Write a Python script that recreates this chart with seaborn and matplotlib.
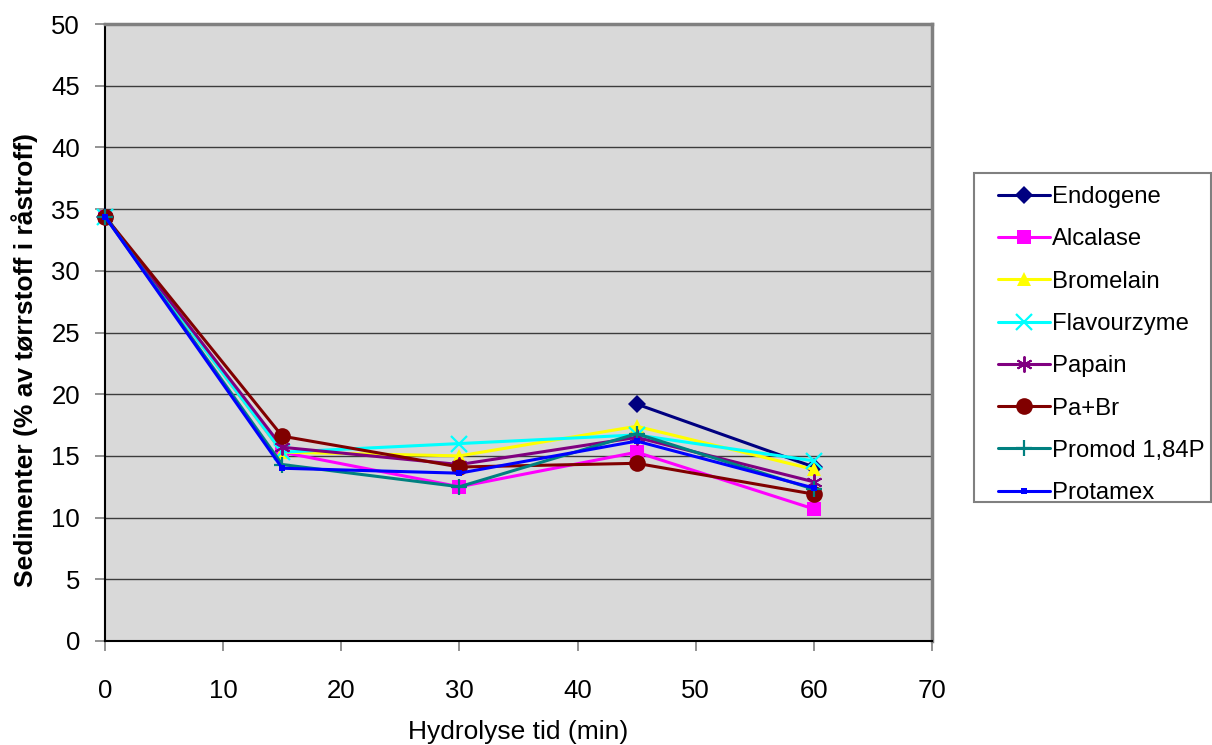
import numpy as np
import pandas as pd
import matplotlib
matplotlib.use("Agg")
import matplotlib.pyplot as plt
from matplotlib.patches import Rectangle
import seaborn as sns

# Hydrolysis time (min)
time_min = [0, 15, 30, 45, 60]

# Sediment, % of dry matter in raw material, per enzyme treatment
endogene = [34.4, np.nan, np.nan, 19.2, 14.1]
alcalase = [34.4, 15.3, 12.5, 15.3, 10.7]
bromelain = [34.4, 15.3, 15.0, 17.4, 13.9]
flavourzyme = [34.4, 15.3, 16.0, 16.7, 14.6]
papain = [34.4, 15.7, 14.3, 16.5, 12.9]
pa_br = [34.4, 16.6, 14.1, 14.4, 11.9]
promod = [34.4, 14.3, 12.5, 16.8, 12.3]
protamex = [34.4, 14.0, 13.6, 16.2, 12.4]

series_names = ["Endogene", "Alcalase", "Bromelain", "Flavourzyme",
                "Papain", "Pa+Br", "Promod 1,84P", "Protamex"]
series_values = [endogene, alcalase, bromelain, flavourzyme,
                 papain, pa_br, promod, protamex]

colors = ["#000080", "#FF00FF", "#FFFF00", "#00FFFF",
          "#800080", "#800000", "#008080", "#0000FF"]
markers = ["D", "s", "^", "x", (6, 2, 0), "o", "+", "s"]
msizes = [9.5, 10.5, 10.5, 11, 11.5, 12, 12, 4.5]
medge = [0, 0, 0, 1.6, 1.4, 0, 1.6, 0]

sns.set_theme(style="white")
plt.rcParams["font.family"] = ["Liberation Sans", "DejaVu Sans"]
plt.rcParams["text.color"] = "black"
plt.rcParams["axes.labelcolor"] = "black"

W, H = 1212, 745
fig = plt.figure(figsize=(W / 100, H / 100), dpi=100)
ax = fig.add_axes([105 / W, 1 - 641 / H, (932 - 105) / W, (641 - 24) / H])
ax.set_facecolor("#D9D9D9")

for name, vals, c, m, ms, me in zip(series_names, series_values, colors,
                                      markers, msizes, medge):
    df = pd.DataFrame({"t": time_min, "v": vals})
    # break the line where values are missing
    df["seg"] = df["v"].isna().cumsum()
    df = df.dropna()
    first = True
    for _, seg in df.groupby("seg"):
        sns.lineplot(data=seg, x="t", y="v", ax=ax, color=c, lw=2.2,
                     marker=m, markersize=ms, markeredgewidth=me,
                     markeredgecolor=c, markerfacecolor=c,
                     label=name if first else None, legend=False,
                     clip_on=False, zorder=3)
        first = False

ax.set_xlim(0, 70)
ax.set_ylim(0, 50)
ax.set_xticks(range(0, 71, 10))
ax.set_yticks(range(0, 51, 5))
ax.grid(axis="y", color="#3C3C3C", lw=1.0)
ax.grid(axis="x", visible=False)
ax.set_axisbelow(True)

for side in ["left", "bottom"]:
    ax.spines[side].set_color("black")
    ax.spines[side].set_linewidth(1.5)
for side in ["top", "right"]:
    ax.spines[side].set_color("#808080")
    ax.spines[side].set_linewidth(2.5)

ax.tick_params(axis="both", direction="out", length=7, width=1.2,
               color="#808080", labelsize=18.5, labelcolor="black",
               left=True, bottom=True)
ax.tick_params(axis="y", pad=11)
ax.tick_params(axis="x", pad=20)

ax.set_xlabel("")
ax.set_ylabel("")
fig.text(518 / W, 1 - 732 / H, "Hydrolyse tid (min)", fontsize=19,
         ha="center", va="center")
fig.text(25 / W, 1 - 360 / H, "Sedimenter (% av tørrstoff i råstroff)",
         fontsize=19, fontweight="bold", rotation=90,
         ha="center", va="center")

# legend box drawn as a separate frame
fig.patches.append(Rectangle((974 / W, 1 - 502 / H), (1211 - 974) / W,
                             (502 - 173) / H, transform=fig.transFigure,
                             facecolor="white", edgecolor="#808080",
                             lw=1.5, zorder=0))
handles, labels = ax.get_legend_handles_labels()
leg = fig.legend(handles, labels, loc="upper left",
                 bbox_to_anchor=(998 / W, 1 - 186 / H),
                 fontsize=17.2, frameon=False, handlelength=2.18,
                 handletextpad=0.08, labelspacing=0.85, borderpad=0,
                 borderaxespad=0)

fig.savefig("out.png", dpi=100)
